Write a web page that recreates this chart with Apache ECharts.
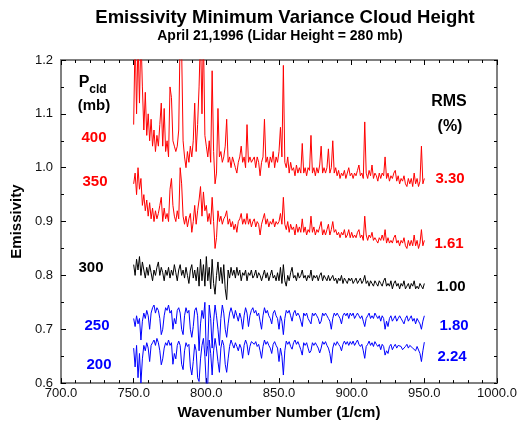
<!DOCTYPE html>
<html>
<head>
<meta charset="utf-8">
<script src="https://cdn.jsdelivr.net/npm/echarts/dist/echarts.min.js"></script>
<style>
html,body{margin:0;padding:0;background:#fff;}
#chart{width:521px;height:425px;}
</style>
</head>
<body>
<div id="chart"></div>
<script>
// Spectral grid (1/cm): first wavenumber and spacing of the samples below
const wnStart = 750;
const wnStep = 1;

// Emissivity spectra, one value per wavenumber 750..950
const p400 = [
1.08,1.25,1.10,1.24,1.12,1.25,1.15,1.07,1.14,1.06,
1.10,1.05,1.09,1.04,1.07,1.03,1.06,1.04,1.08,1.12,
1.04,1.11,1.03,1.05,1.02,1.15,1.13,1.05,1.04,1.03,
1.04,1.07,1.25,1.22,1.05,1.02,1.00,1.03,1.01,1.04,
1.02,1.05,1.12,1.03,1.08,1.15,1.25,1.10,1.25,1.06,
1.04,1.02,1.05,1.01,1.18,1.03,0.97,0.99,1.11,1.02,
1.03,1.01,1.02,1.04,1.09,1.01,1.02,1.00,1.02,1.01,
1.00,0.99,1.01,1.02,1.04,1.01,1.02,1.00,1.08,1.01,
1.02,1.01,1.01,1.02,1.00,1.02,1.01,0.985,1.01,1.02,
1.09,1.01,1.02,1.00,1.02,1.01,1.03,1.00,1.02,1.01,
1.03,1.075,1.02,1.19,1.01,1.00,1.02,0.99,1.01,0.995,
1.00,0.985,1.005,0.99,1.00,0.99,1.045,0.99,1.00,0.985,
1.00,0.995,1.06,0.99,1.00,0.985,1.00,0.99,1.005,1.04,
0.99,1.00,0.99,1.00,1.035,0.99,1.00,1.05,0.99,1.00,
0.985,0.995,0.98,0.99,0.985,0.995,0.98,0.99,1.00,0.985,
0.99,0.98,0.99,0.985,0.995,1.005,0.985,0.99,0.98,1.085,
0.99,0.98,0.995,0.985,1.005,0.98,0.99,0.985,0.975,0.99,
0.98,0.99,0.985,1.02,0.98,0.99,0.975,0.985,0.98,0.99,
0.995,0.975,0.985,0.97,0.98,0.975,0.985,0.97,0.965,0.98,
0.97,0.98,0.965,0.99,0.97,0.98,0.965,0.975,1.04,0.97,
0.98
];
const p350 = [
0.97,0.99,0.95,1.00,0.96,0.98,0.93,0.95,0.92,0.94,
0.91,0.935,0.905,0.925,0.90,0.92,0.905,0.915,0.93,0.945,
0.90,0.925,0.905,0.915,0.90,0.96,0.98,0.93,0.91,0.90,
0.92,0.905,1.00,0.97,0.91,0.895,0.91,0.89,0.905,0.915,
0.88,0.90,0.93,0.895,0.92,0.94,0.965,0.91,0.955,0.92,
0.93,0.90,0.915,0.895,0.945,0.90,0.85,0.87,0.92,0.90,
0.91,0.895,0.905,0.91,0.92,0.895,0.905,0.89,0.90,0.885,
0.895,0.88,0.90,0.905,0.915,0.895,0.905,0.895,0.915,0.895,
0.905,0.89,0.90,0.905,0.89,0.90,0.895,0.875,0.895,0.905,
0.915,0.895,0.905,0.89,0.90,0.895,0.905,0.89,0.90,0.895,
0.90,0.915,0.895,0.945,0.895,0.885,0.90,0.88,0.895,0.885,
0.89,0.875,0.895,0.88,0.89,0.88,0.905,0.88,0.89,0.875,
0.885,0.88,0.91,0.88,0.89,0.875,0.885,0.88,0.89,0.90,
0.875,0.885,0.875,0.885,0.895,0.875,0.885,0.90,0.88,0.885,
0.875,0.88,0.87,0.88,0.875,0.885,0.87,0.875,0.885,0.87,
0.88,0.87,0.875,0.87,0.88,0.885,0.87,0.875,0.865,0.91,
0.875,0.865,0.875,0.87,0.88,0.865,0.87,0.865,0.86,0.87,
0.865,0.875,0.865,0.885,0.86,0.87,0.86,0.865,0.86,0.87,
0.875,0.86,0.865,0.855,0.865,0.86,0.87,0.855,0.85,0.865,
0.855,0.865,0.855,0.875,0.855,0.865,0.85,0.86,0.885,0.855,
0.865
];
const p300 = [
0.82,0.80,0.83,0.81,0.835,0.80,0.825,0.81,0.795,0.815,
0.80,0.82,0.805,0.79,0.81,0.80,0.815,0.825,0.80,0.815,
0.805,0.79,0.81,0.80,0.815,0.795,0.81,0.80,0.82,0.805,
0.79,0.81,0.82,0.80,0.81,0.795,0.815,0.80,0.785,0.81,
0.82,0.795,0.81,0.79,0.815,0.78,0.83,0.79,0.82,0.78,
0.835,0.79,0.815,0.775,0.83,0.785,0.765,0.80,0.825,0.79,
0.815,0.785,0.82,0.775,0.755,0.81,0.795,0.815,0.80,0.81,
0.795,0.815,0.80,0.81,0.79,0.805,0.80,0.81,0.79,0.805,
0.80,0.81,0.795,0.80,0.81,0.795,0.805,0.80,0.79,0.80,
0.81,0.795,0.805,0.79,0.80,0.81,0.795,0.80,0.79,0.805,
0.79,0.815,0.785,0.82,0.79,0.78,0.80,0.79,0.805,0.815,
0.795,0.80,0.79,0.805,0.795,0.80,0.81,0.795,0.80,0.79,
0.80,0.795,0.81,0.79,0.80,0.795,0.80,0.79,0.80,0.805,
0.79,0.80,0.795,0.79,0.80,0.79,0.795,0.80,0.79,0.795,
0.785,0.795,0.79,0.80,0.785,0.795,0.79,0.785,0.795,0.79,
0.795,0.785,0.79,0.795,0.785,0.79,0.795,0.785,0.79,0.80,
0.785,0.79,0.78,0.79,0.785,0.78,0.79,0.785,0.78,0.79,
0.785,0.78,0.79,0.795,0.78,0.785,0.78,0.79,0.775,0.785,
0.79,0.78,0.785,0.775,0.785,0.78,0.79,0.775,0.78,0.785,
0.775,0.785,0.78,0.79,0.775,0.78,0.775,0.785,0.78,0.775,
0.785
];
const p250 = [
0.72,0.705,0.725,0.71,0.72,0.68,0.715,0.73,0.72,0.735,
0.725,0.70,0.73,0.74,0.745,0.73,0.74,0.735,0.72,0.69,
0.70,0.725,0.74,0.735,0.745,0.73,0.735,0.70,0.72,0.71,
0.735,0.74,0.73,0.70,0.69,0.725,0.74,0.73,0.735,0.70,
0.685,0.705,0.735,0.74,0.725,0.66,0.71,0.735,0.72,0.75,
0.65,0.67,0.745,0.72,0.665,0.715,0.745,0.725,0.70,0.67,
0.72,0.745,0.73,0.70,0.685,0.71,0.73,0.74,0.73,0.72,
0.735,0.725,0.715,0.73,0.72,0.70,0.725,0.74,0.73,0.705,
0.725,0.735,0.74,0.73,0.735,0.725,0.73,0.715,0.70,0.725,
0.74,0.73,0.735,0.725,0.72,0.71,0.73,0.735,0.725,0.72,
0.70,0.725,0.715,0.69,0.72,0.735,0.73,0.735,0.725,0.715,
0.73,0.735,0.725,0.73,0.725,0.715,0.705,0.73,0.725,0.73,
0.72,0.715,0.71,0.73,0.725,0.73,0.725,0.72,0.71,0.715,
0.73,0.725,0.73,0.725,0.72,0.715,0.70,0.72,0.73,0.725,
0.73,0.725,0.72,0.71,0.725,0.73,0.725,0.73,0.72,0.73,
0.725,0.73,0.72,0.725,0.73,0.725,0.72,0.725,0.715,0.705,
0.72,0.725,0.73,0.72,0.725,0.72,0.73,0.725,0.72,0.725,
0.715,0.725,0.72,0.70,0.715,0.705,0.72,0.725,0.715,0.72,
0.725,0.715,0.72,0.725,0.72,0.715,0.71,0.72,0.725,0.715,
0.72,0.725,0.715,0.72,0.71,0.72,0.715,0.71,0.70,0.715,
0.725
];
const p200 = [
0.665,0.63,0.67,0.61,0.655,0.60,0.645,0.67,0.66,0.675,
0.665,0.64,0.67,0.675,0.68,0.67,0.683,0.675,0.66,0.634,
0.645,0.665,0.675,0.67,0.68,0.67,0.675,0.635,0.655,0.645,
0.67,0.678,0.67,0.635,0.625,0.66,0.675,0.668,0.672,0.63,
0.615,0.64,0.672,0.66,0.61,0.603,0.645,0.67,0.683,0.65,
0.595,0.60,0.68,0.655,0.615,0.66,0.683,0.665,0.64,0.62,
0.665,0.68,0.67,0.635,0.62,0.645,0.668,0.68,0.672,0.665,
0.675,0.668,0.66,0.672,0.665,0.646,0.67,0.68,0.672,0.652,
0.668,0.677,0.68,0.672,0.677,0.668,0.672,0.66,0.646,0.668,
0.68,0.672,0.677,0.67,0.665,0.655,0.672,0.677,0.67,0.665,
0.64,0.665,0.65,0.615,0.66,0.678,0.672,0.677,0.668,0.663,
0.675,0.68,0.672,0.677,0.67,0.662,0.652,0.675,0.67,0.675,
0.665,0.656,0.66,0.675,0.67,0.675,0.67,0.665,0.656,0.665,
0.677,0.672,0.677,0.67,0.665,0.655,0.637,0.665,0.675,0.67,
0.677,0.672,0.668,0.66,0.672,0.678,0.672,0.677,0.67,0.677,
0.672,0.678,0.67,0.675,0.68,0.672,0.668,0.672,0.66,0.646,
0.668,0.672,0.678,0.67,0.675,0.668,0.677,0.672,0.668,0.672,
0.662,0.672,0.668,0.652,0.66,0.655,0.668,0.672,0.662,0.668,
0.672,0.665,0.67,0.672,0.668,0.662,0.66,0.668,0.672,0.665,
0.67,0.672,0.665,0.668,0.66,0.668,0.665,0.655,0.64,0.66,
0.676
];

// Legend-like annotations
const pcldLabels = ['400', '350', '300', '250', '200'];
const rmsLabels = ['3.30', '1.61', '1.00', '1.80', '2.24'];
const seriesColors = ['#ff0000', '#ff0000', '#000000', '#0000ff', '#0000ff'];

const spectra = [p400, p350, p300, p250, p200];

function toPairs(arr) {
  return arr.map((v, i) => [wnStart + i * wnStep, v]);
}

const FONT = '"Liberation Sans", Arial, Helvetica, sans-serif';
const axisGray = '#808080';

function xAx(pos, showLabel) {
  return {
    type: 'value', position: pos, min: 700, max: 1000, interval: 50,
    axisLine: { show: true, lineStyle: { color: axisGray, width: 2 } },
    axisTick: { show: true, inside: true, length: 5, lineStyle: { color: '#000', width: 1 } },
    minorTick: { show: true, splitNumber: 5, length: 3, lineStyle: { color: '#000', width: 1 } },
    splitLine: { show: false },
    axisLabel: {
      show: showLabel, formatter: v => v.toFixed(1), fontFamily: FONT, fontSize: 13,
      color: '#111', margin: 4
    },
    name: showLabel ? 'Wavenumber Number (1/cm)' : '',
    nameLocation: 'middle', nameGap: 18,
    nameTextStyle: { fontFamily: FONT, fontSize: 15, fontWeight: 'bold', color: '#000' }
  };
}
function yAx(pos, showLabel) {
  return {
    type: 'value', position: pos, min: 0.6, max: 1.2, interval: 0.1,
    axisLine: { show: true, lineStyle: { color: axisGray, width: 2 } },
    axisTick: { show: true, inside: true, length: showLabel ? 5 : 3, lineStyle: { color: '#000', width: 1 } },
    minorTick: { show: true, splitNumber: 2, length: 3, lineStyle: { color: '#000', width: 1 } },
    splitLine: { show: false },
    axisLabel: {
      show: showLabel, formatter: v => v.toFixed(1), fontFamily: FONT, fontSize: 13,
      color: '#111', margin: 8
    },
    name: showLabel ? 'Emissivity' : '',
    nameLocation: 'middle', nameGap: 27,
    nameTextStyle: { fontFamily: FONT, fontSize: 15, fontWeight: 'bold', color: '#000' }
  };
}

const leftPos = [[94, 138], [95, 182], [91, 268], [97, 326], [99, 365]];
const rightPos = [[450, 179], [449, 244], [451, 287], [454, 326], [452, 357]];

function txt(s, x, y, color, size) {
  return {
    type: 'text', x: x, y: y, silent: true,
    style: {
      text: s, fill: color, font: 'bold ' + size + 'px ' + FONT,
      textAlign: 'center', textVerticalAlign: 'middle', align: 'center', verticalAlign: 'middle'
    }
  };
}

const graphics = [];
pcldLabels.forEach((s, i) => graphics.push(txt(s, leftPos[i][0], leftPos[i][1], seriesColors[i], 15)));
rmsLabels.forEach((s, i) => graphics.push(txt(s, rightPos[i][0], rightPos[i][1], seriesColors[i], 15)));
graphics.push(txt('P', 84, 83, '#000', 16));
graphics.push(txt('cld', 98, 90, '#000', 12));
graphics.push(txt('(mb)', 94, 106, '#000', 15));
graphics.push(txt('RMS', 449, 102, '#000', 16));
graphics.push(txt('(%)', 450, 127, '#000', 16));

const chart = echarts.init(document.getElementById('chart'), null, { renderer: 'canvas' });
chart.setOption({
  animation: false,
  backgroundColor: '#fff',
  title: [
    { text: 'Emissivity Minimum Variance Cloud Height', left: 280, top: 3, textAlign: 'center',
      textStyle: { fontFamily: FONT, fontSize: 18.5, fontWeight: 'bold', color: '#000' } },
    { text: 'April 21,1996 (Lidar Height = 280 mb)', left: 275, top: 24, textAlign: 'center',
      textStyle: { fontFamily: FONT, fontSize: 14, fontWeight: 'bold', color: '#000' } }
  ],
  grid: { left: 61, right: 24, top: 60, bottom: 40, containLabel: false },
  xAxis: [xAx('bottom', true), xAx('top', false)],
  yAxis: [yAx('left', true), yAx('right', false)],
  series: spectra.map((arr, i) => ({
    type: 'line', data: toPairs(arr), xAxisIndex: 0, yAxisIndex: 0,
    showSymbol: false, symbol: 'none', clip: true,
    lineStyle: { color: seriesColors[i], width: 1 }, itemStyle: { color: seriesColors[i] }
  })),
  graphic: graphics
});
</script>
</body>
</html>
